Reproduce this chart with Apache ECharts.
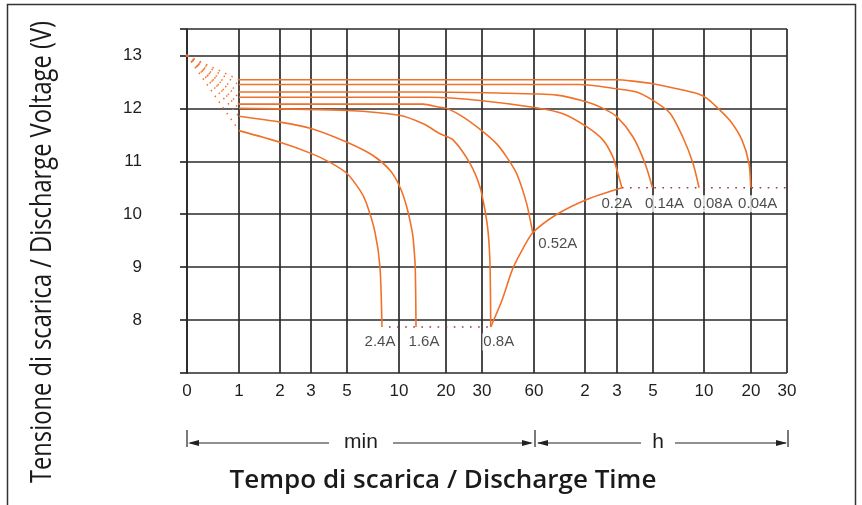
<!DOCTYPE html>
<html><head><meta charset="utf-8">
<script src="https://cdn.jsdelivr.net/npm/echarts@6/dist/echarts.min.js"></script>
<style>html,body{margin:0;padding:0;background:#fff}#c{width:862px;height:505px}</style>
</head><body><div id="c"></div>
<script>
// ---- x axis ticks (discharge time in minutes) and labels ----
const tickMinutes = [0, 1, 2, 3, 5, 10, 20, 30, 60, 120, 180, 300, 600, 1200, 1800];
const tickLabels  = ['0','1','2','3','5','10','20','30','60','2','3','5','10','20','30'];
// ---- y axis ticks and labels (V) ----
const yTicks  = [7, 8, 9, 10, 11, 12, 13, 13.5];
const yLabels = [8, 9, 10, 11, 12, 13];

// ---- discharge curves: [minutes, volts] ----
const seriesNames = ['0.04A', '0.08A', '0.14A', '0.2A', '0.52A', '0.8A', '1.6A', '2.4A'];
const c004 = [[1,12.54],[60,12.54],[180,12.54],[226,12.515],[300,12.466],[416,12.37],[546,12.28],[627,12.19],[727,12.02],[880,11.77],[1051,11.40],[1165,10.96],[1195,10.5]];
const c008 = [[1,12.45],[60,12.45],[112,12.45],[180,12.37],[238,12.31],[300,12.15],[378,11.91],[451,11.45],[517,10.96],[561,10.5]];
const c014 = [[1,12.31],[15.8,12.31],[36.6,12.29],[82,12.25],[123,12.12],[151,12.0],[180,11.84],[226,11.46],[268,10.96],[298,10.5]];
const c02  = [[1,12.21],[15.8,12.21],[29.3,12.15],[59.2,12.02],[89,11.90],[123,11.65],[151,11.40],[171,11.08],[180,10.83],[193,10.5]];
const c052 = [[1,12.08],[14.25,12.08],[18.3,12.02],[20.2,12.0],[24.2,11.84],[29.9,11.58],[36.5,11.33],[41.7,11.08],[47.6,10.77],[54.4,10.20],[59,9.65]];
const c08  = [[1,12.0],[5,11.96],[10,11.87],[14.3,11.71],[18.3,11.52],[21.7,11.40],[26.2,10.96],[29.3,10.52],[31.2,10.08],[32.6,9.64],[33.4,9.01],[33.7,7.87]];
const c16  = [[1,11.85],[2,11.74],[3,11.62],[5,11.36],[7.07,11.11],[8.87,10.83],[10.15,10.51],[11.2,10.14],[12.1,9.70],[12.35,9.51],[12.7,9.0],[12.85,7.87]];
const c24  = [[1,11.58],[2,11.36],[3,11.15],[3.93,10.98],[5,10.77],[5.95,10.45],[6.44,10.23],[7.26,9.66],[7.76,9.0],[7.97,7.87]];
const curves = [c004, c008, c014, c02, c052, c08, c16, c24];
// final-voltage line joining the curve ends
const cutoff = [[33.7,7.87],[39.2,8.38],[44.8,8.94],[51.2,9.32],[59,9.65],[82,10.0],[123,10.28],[193,10.5]];
// dotted end-voltage guides
const endLow  = [[8.75,7.87],[33.7,7.87]];
const endHigh = [[193,10.5],[1800,10.5]];
// start point (0 min)
const origin = [0, 13.0];

// ---- axis scale: position of each tick along the axis (non-uniform time scale) ----
const tickAxisPos = [0, 52, 93, 124, 160, 212, 259, 295, 347, 398, 430, 466, 517, 564, 600];
function toAxis(m) {
  if (m <= 0) return 0;
  for (let i = 0; i < tickMinutes.length - 1; i++) {
    const a = tickMinutes[i], b = tickMinutes[i + 1];
    if (m <= b || i === tickMinutes.length - 2) {
      let t;
      if (a === 0) t = m / b; else t = Math.log(m / a) / Math.log(b / a);
      return tickAxisPos[i] + t * (tickAxisPos[i + 1] - tickAxisPos[i]);
    }
  }
}
const conv = arr => arr.map(p => [toAxis(p[0]), p[1]]);

const ORANGE = '#f0722a';
const DARK = '#2a2a2a';
const labelOffsets = [[7,16],[14,16],[12,16],[-5,16],[25,11],[8,15],[8,15],[-2,15]];

const series = [];
curves.forEach((c, i) => {
  series.push({
    type: 'line', name: seriesNames[i] + '-start', data: conv([origin, c[0]]),
    symbol: 'none', silent: true, z: 3,
    lineStyle: { color: ORANGE, width: 1.5, type: [1.5, 5.5] }
  });
  series.push({
    type: 'line', name: seriesNames[i], data: conv(c), smooth: 0.25,
    symbol: 'none', silent: true, z: 4,
    lineStyle: { color: ORANGE, width: 1.6 }
  });
});
series.push({ type: 'line', name: 'cutoff', data: conv(cutoff), smooth: 0.25, symbol: 'none', silent: true, z: 4,
  lineStyle: { color: ORANGE, width: 1.6 } });
[endLow, endHigh].forEach(d => series.push({ type: 'line', data: conv(d), symbol: 'none', silent: true, z: 3,
  lineStyle: { color: '#9e3a35', width: 1.6, type: [1.6, 6.5] } }));
series.push({ type: 'scatter', data: conv([origin]), symbolSize: 3, itemStyle: { color: ORANGE }, silent: true, z: 5 });
series.push({
  type: 'scatter', silent: true, z: 6, symbolSize: 1, itemStyle: { color: 'transparent' },
  data: curves.map((c, i) => ({
    value: [toAxis(c[c.length - 1][0]), c[c.length - 1][1]],
    label: { show: true, position: 'inside', offset: labelOffsets[i], formatter: seriesNames[i],
      fontFamily: 'Liberation Sans', fontSize: 15, color: '#1e1e1e',
      backgroundColor: '#fff', padding: [1, 1] }
  }))
});

const chart = echarts.init(document.getElementById('c'), null, { renderer: 'canvas' });
const arrowY = 443;
const lineSt = { stroke: '#222', lineWidth: 1.2 };
chart.setOption({
  animation: false,
  backgroundColor: '#fff',
  grid: { left: 187, right: 75, top: 29, bottom: 132, outerBoundsMode: 'none' },
  xAxis: {
    type: 'value', min: 0, max: 600,
    axisLine: { show: false },
    axisTick: { show: false, customValues: tickAxisPos },
    splitLine: { show: true, lineStyle: { color: DARK, width: 1.7 } },
    axisLabel: {
      customValues: tickAxisPos, margin: 10, fontFamily: 'Liberation Sans', fontSize: 17, color: '#1e1e1e',
      formatter: v => { const i = tickAxisPos.findIndex(p => Math.abs(p - v) < 0.01); return i >= 0 ? tickLabels[i] : ''; }
    }
  },
  yAxis: {
    type: 'value', min: 7, max: 13.5, offset: 27,
    axisLine: { show: true, lineStyle: { color: DARK, width: 1.7 } },
    axisTick: { show: true, length: 7, customValues: yTicks, lineStyle: { color: DARK, width: 1.7 } },
    splitLine: { show: true, lineStyle: { color: DARK, width: 1.7 } },
    axisLabel: { customValues: yLabels, margin: 18, fontFamily: 'Liberation Sans', fontSize: 17, color: '#1e1e1e' }
  },
  series: series,
  graphic: [
    // frame
    { type: 'polyline', shape: { points: [[7.5, 505], [7.5, 4.5], [855.5, 4.5], [855.5, 505]] }, style: { stroke: '#333', lineWidth: 1.5, fill: null } },
    // min / h arrows
    { type: 'line', shape: { x1: 187, y1: 430, x2: 187, y2: 447 }, style: lineSt },
    { type: 'line', shape: { x1: 535, y1: 430, x2: 535, y2: 447 }, style: lineSt },
    { type: 'line', shape: { x1: 788, y1: 430, x2: 788, y2: 447 }, style: lineSt },
    { type: 'line', shape: { x1: 190, y1: arrowY, x2: 329, y2: arrowY }, style: lineSt },
    { type: 'line', shape: { x1: 393, y1: arrowY, x2: 531, y2: arrowY }, style: lineSt },
    { type: 'line', shape: { x1: 538, y1: arrowY, x2: 641, y2: arrowY }, style: lineSt },
    { type: 'line', shape: { x1: 675, y1: arrowY, x2: 786, y2: arrowY }, style: lineSt },
    { type: 'polygon', shape: { points: [[188, arrowY], [199, arrowY - 3], [199, arrowY + 3]] }, style: { fill: '#222' } },
    { type: 'polygon', shape: { points: [[533, arrowY], [522, arrowY - 3], [522, arrowY + 3]] }, style: { fill: '#222' } },
    { type: 'polygon', shape: { points: [[537, arrowY], [548, arrowY - 3], [548, arrowY + 3]] }, style: { fill: '#222' } },
    { type: 'polygon', shape: { points: [[787, arrowY], [776, arrowY - 3], [776, arrowY + 3]] }, style: { fill: '#222' } },
    { type: 'text', x: 361, y: arrowY - 1, style: { text: 'min', font: '21px "Liberation Sans"', fill: '#1e1e1e', align: 'center', verticalAlign: 'middle' } },
    { type: 'text', x: 658, y: arrowY - 1, style: { text: 'h', font: '21px "Liberation Sans"', fill: '#1e1e1e', align: 'center', verticalAlign: 'middle' } },
    // axis titles
    { type: 'text', x: 443, y: 481, style: { text: 'Tempo di scarica / Discharge Time', font: '600 26px "Open Sans"', fill: '#1a1a1a', align: 'center', verticalAlign: 'middle' } },
    { type: 'text', x: 42, y: 252, rotation: Math.PI / 2, scaleX: 0.79, style: { text: 'Tensione di scarica / Discharge Voltage (V)', font: '500 30px "Open Sans"', fill: '#1a1a1a', align: 'center', verticalAlign: 'middle' } }
  ]
});
</script></body></html>
